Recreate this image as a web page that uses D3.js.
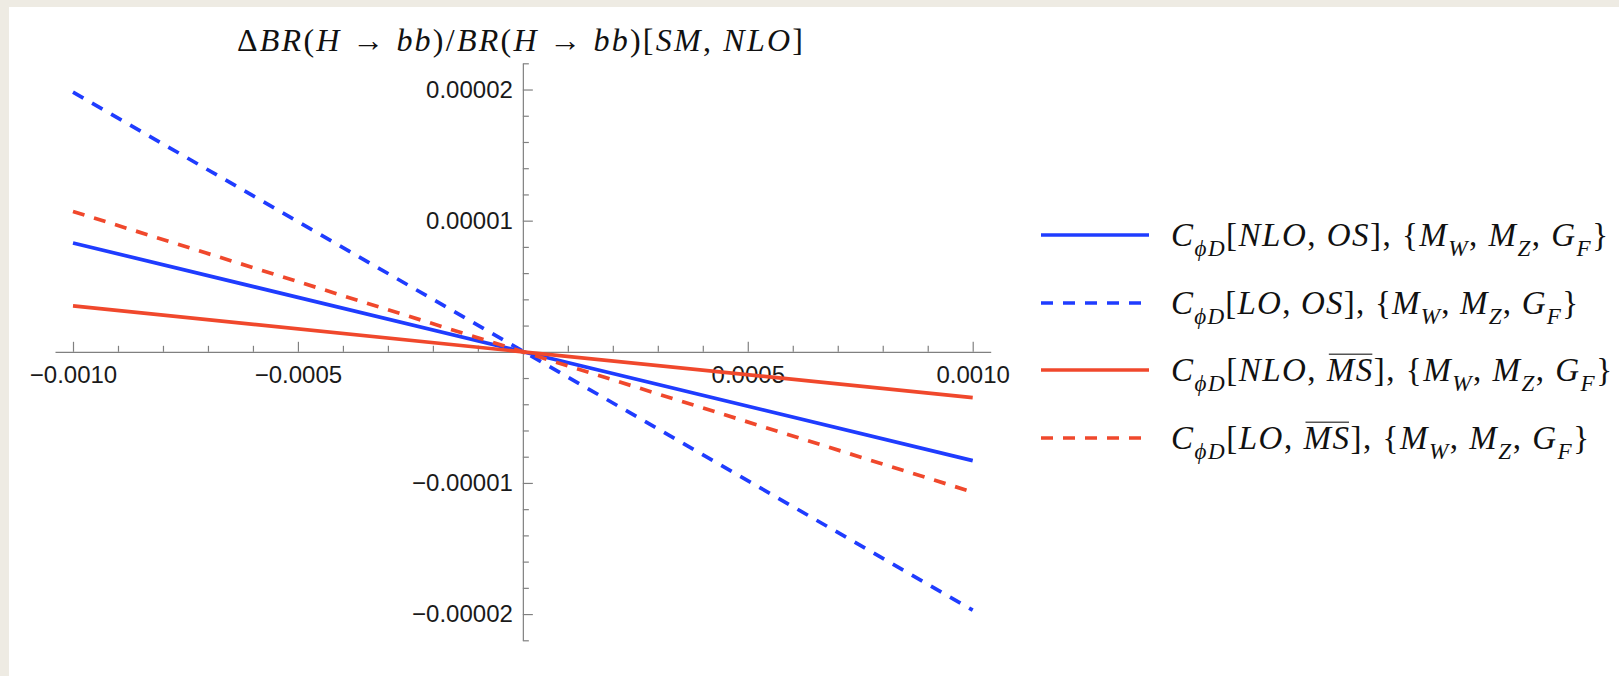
<!DOCTYPE html>
<html>
<head>
<meta charset="utf-8">
<script src="https://cdn.jsdelivr.net/npm/d3@7"></script>
<style>
  body { margin: 0; background: #fff; }
  svg { display: block; }
  text { white-space: pre; }
</style>
</head>
<body>
<svg id="grafico"></svg>
<script>
// valores (coeficiente C_phiD em x, razão relativa em y)
const xValores = [-0.001, 0.001];
const nloOS = [0.0000083, -0.0000083];
const loOS = [0.0000198, -0.0000197];
const nloMS = [0.0000035, -0.0000035];
const loMS = [0.0000107, -0.0000107];

const xTicks = [-0.001, -0.0005, 0.0005, 0.001];
const xRotulos = ['\u22120.0010', '\u22120.0005', '0.0005', '0.0010'];
const yTicks = [-0.00002, -0.00001, 0.00001, 0.00002];
const yRotulos = ['\u22120.00002', '\u22120.00001', '0.00001', '0.00002'];

const titulo = '\u0394BR(H \u2192 bb)/BR(H \u2192 bb)[SM, NLO]';
const nomesSeries = [
  'C_{\u03D5D}[NLO, OS], {M_W, M_Z, G_F}',
  'C_{\u03D5D}[LO, OS], {M_W, M_Z, G_F}',
  'C_{\u03D5D}[NLO, #{MS}], {M_W, M_Z, G_F}',
  'C_{\u03D5D}[LO, #{MS}], {M_W, M_Z, G_F}'
];

const azul = '#1f3cff';
const vermelho = '#f0482c';
const series = [
  { valores: nloOS, cor: azul, tracejado: null },
  { valores: loOS, cor: azul, tracejado: '12,10' },
  { valores: nloMS, cor: vermelho, tracejado: null },
  { valores: loMS, cor: vermelho, tracejado: '12,10' }
];

const largura = 1619, altura = 676;
const svg = d3.select('#grafico').attr('width', largura).attr('height', altura);

// moldura bege da captura
svg.append('rect').attr('width', largura).attr('height', altura).attr('fill', '#eeebe3');
svg.append('rect').attr('x', 9).attr('y', 7).attr('width', largura - 9).attr('height', altura - 7).attr('fill', '#fff');

const x = d3.scaleLinear().domain([-0.00104, 0.00104]).range([55, 990.7]);
const y = d3.scaleLinear().domain([-0.000022, 0.000022]).range([640.3, 63.3]);

const fonteEixo = '"Liberation Sans", Arial, sans-serif';
const fonteMat = '"Liberation Serif", "Times New Roman", "DejaVu Serif", serif';
const corEixo = '#808080';

function estiliza(g) {
  g.selectAll('.domain, line').attr('stroke', corEixo).attr('stroke-width', 1.2);
  g.selectAll('text').attr('fill', '#1a1a1a').style('font-size', '24px').style('font-family', fonteEixo);
}

// eixo x
const xMenores = d3.range(-10, 11).filter(v => v % 5 !== 0).map(v => v * 0.0001);
const gxMenor = svg.append('g').attr('transform', `translate(0, ${y(0)})`)
  .call(d3.axisBottom(x).tickValues(xMenores).tickSize(-6).tickFormat(''));
gxMenor.select('.domain').remove();
estiliza(gxMenor);

const gx = svg.append('g').attr('transform', `translate(0, ${y(0)})`)
  .call(d3.axisBottom(x).tickValues(xTicks).tickFormat((d, i) => xRotulos[i])
    .tickSizeInner(-10).tickSizeOuter(0).tickPadding(14));
estiliza(gx);

// eixo y
const yMenores = d3.range(-22, 23, 2).filter(v => v % 10 !== 0).map(v => v * 0.000001);
const gyMenor = svg.append('g').attr('transform', `translate(${x(0)}, 0)`)
  .call(d3.axisLeft(y).tickValues(yMenores).tickSize(-6).tickFormat(''));
gyMenor.select('.domain').remove();
estiliza(gyMenor);

const gy = svg.append('g').attr('transform', `translate(${x(0)}, 0)`)
  .call(d3.axisLeft(y).tickValues(yTicks).tickFormat((d, i) => yRotulos[i])
    .tickSizeInner(-10).tickSizeOuter(0).tickPadding(10));
estiliza(gy);

// linhas
const linha = d3.line().x((d, i) => x(xValores[i])).y(d => y(d));
svg.selectAll('.serie')
  .data(series)
  .enter()
  .append('path')
  .classed('serie', true)
  .attr('d', d => linha(d.valores))
  .attr('fill', 'none')
  .attr('stroke', d => d.cor)
  .attr('stroke-width', 3.7)
  .attr('stroke-dasharray', d => d.tracejado);

// texto estilo TeX: letras em itálico, _ subscrito, #{..} com barra
function textoMat(pai, src, px, py, tam, larg) {
  const t = pai.append('text').attr('x', px).attr('y', py)
    .style('font-family', fonteMat).style('font-size', tam + 'px').attr('fill', '#111');
  let desloc = 0;
  const barras = [];
  function poe(ch, sub, barra) {
    const alvo = sub ? tam * 0.3 : 0;
    const s = t.append('tspan').text(ch)
      .attr('dy', alvo - desloc)
      .style('font-size', (sub ? tam * 0.7 : tam) + 'px')
      .style('font-style', /[A-Za-z\u03D5]/.test(ch) ? 'italic' : 'normal');
    desloc = alvo;
    if (barra) barras.push(s.node());
  }
  function grupo(i) {
    if (src[i] === '{') {
      const fim = src.indexOf('}', i);
      return [src.slice(i + 1, fim), fim + 1];
    }
    return [src[i], i + 1];
  }
  let i = 0;
  while (i < src.length) {
    const c = src[i];
    if (c === '_' || c === '#') {
      const [conteudo, prox] = grupo(i + 1);
      for (const ch of conteudo) poe(ch, c === '_', c === '#');
      i = prox;
    } else {
      poe(c, false, false);
      i++;
    }
  }
  // largura mais próxima da fonte do TeX
  if (larg) t.attr('textLength', larg).attr('lengthAdjust', 'spacing');
  if (barras.length) {
    const caixas = barras.map(n => n.getBBox());
    const x0 = d3.min(caixas, b => b.x) + 3;
    const x1 = d3.max(caixas, b => b.x + b.width);
    const yb = py - tam * 0.72 - 3;
    pai.append('line').attr('x1', x0).attr('x2', x1).attr('y1', yb).attr('y2', yb)
      .attr('stroke', '#555').attr('stroke-width', 1.3);
  }
  return t;
}

textoMat(svg, titulo, 237, 51, 32, 566);

// legenda
const legenda = svg.append('g');
const yLegenda = [235, 303, 370, 438];
const largLegenda = [437, 407, 441, 418];
series.forEach((s, i) => {
  legenda.append('line')
    .attr('x1', 1041).attr('x2', 1149)
    .attr('y1', yLegenda[i]).attr('y2', yLegenda[i])
    .attr('stroke', s.cor).attr('stroke-width', 3.7)
    .attr('stroke-dasharray', s.tracejado);
  textoMat(legenda, nomesSeries[i], 1171, yLegenda[i] + 11, 33, largLegenda[i]);
});
</script>
</body>
</html>
